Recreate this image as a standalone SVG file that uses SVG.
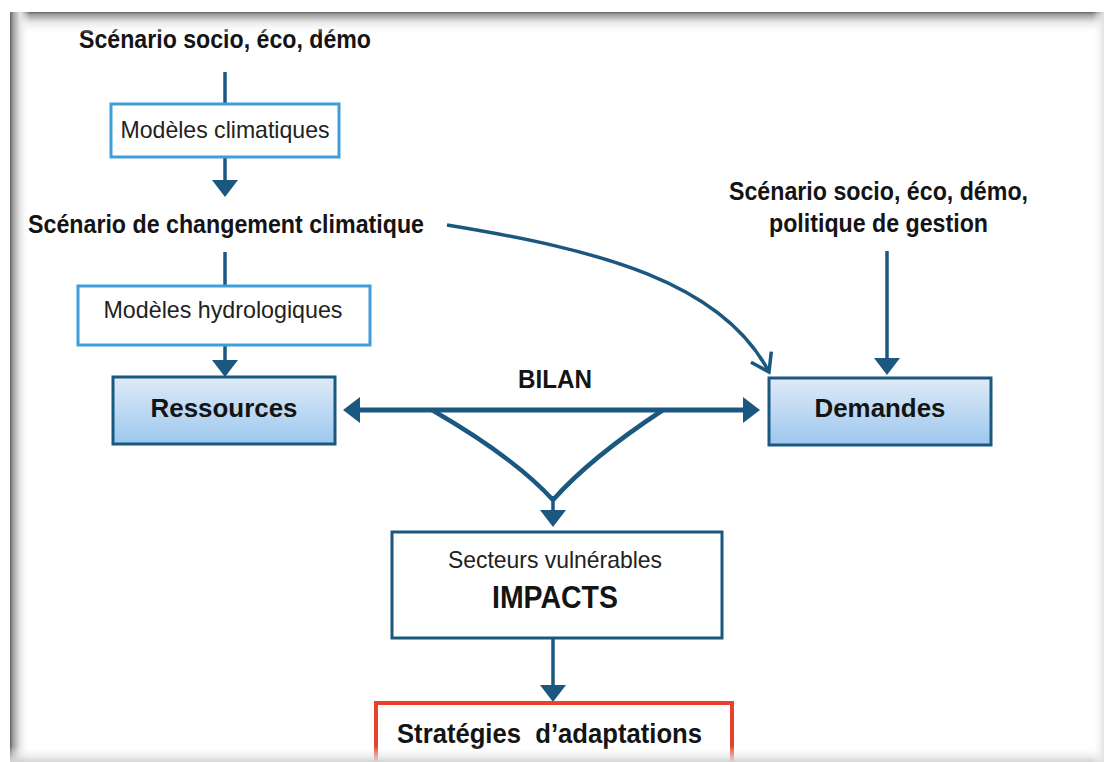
<svg xmlns="http://www.w3.org/2000/svg" width="1104" height="762" viewBox="0 0 1104 762">
<style>
text{font-family:"Liberation Sans",Arial,sans-serif;fill:#141414;text-anchor:middle}
.b{font-weight:bold}
.r{font-weight:normal;fill:#222}
.lb{fill:#fff;stroke:#3f9dd8;stroke-width:3}
.db{fill:url(#gBox);stroke:#1b5880;stroke-width:3}
.wb{fill:#fff;stroke:#1b5880;stroke-width:3}
.rb{fill:#fff;stroke:#e8412c;stroke-width:4}
.c{fill:none;stroke:#1b5880;stroke-width:3.5}
</style>
<defs>
<linearGradient id="gBox" x1="0" y1="0" x2="0" y2="1">
<stop offset="0" stop-color="#dfeaf7"/><stop offset="1" stop-color="#9cc7ee"/>
</linearGradient>
<linearGradient id="gTop" x1="0" y1="0" x2="0" y2="1">
<stop offset="0" stop-color="#666"/><stop offset="0.12" stop-color="#a0a0a0"/><stop offset="0.45" stop-color="#e4e4e4"/><stop offset="1" stop-color="#ffffff" stop-opacity="0"/>
</linearGradient>
<linearGradient id="gLeft" x1="0" y1="0" x2="1" y2="0">
<stop offset="0" stop-color="#606060"/><stop offset="0.15" stop-color="#a0a0a0"/><stop offset="0.5" stop-color="#e6e6e6"/><stop offset="1" stop-color="#ffffff" stop-opacity="0"/>
</linearGradient>
<linearGradient id="gBot" x1="0" y1="0" x2="0" y2="1">
<stop offset="0" stop-color="#ffffff" stop-opacity="0"/><stop offset="1" stop-color="#d4d4d4"/>
</linearGradient>
<linearGradient id="gRight" x1="0" y1="0" x2="1" y2="0">
<stop offset="0" stop-color="#ffffff" stop-opacity="0"/><stop offset="1" stop-color="#e2e2e2"/>
</linearGradient>
<marker id="ah" markerUnits="userSpaceOnUse" markerWidth="20" markerHeight="26" viewBox="0 0 17 26" refX="2" refY="13" orient="auto-start-reverse" overflow="visible">
<path d="M0,0 L17,13 L0,26 z" fill="#1b5880"/>
</marker>
<marker id="open" markerUnits="userSpaceOnUse" markerWidth="24" markerHeight="28" viewBox="-20 -14 24 28" refX="0" refY="0" orient="auto" overflow="visible">
<path d="M-17,-11.5 L0,0 L-17,11.5" fill="none" stroke="#1b5880" stroke-width="3.5"/>
</marker>
</defs>
<rect width="1104" height="762" fill="#fff"/>

<g id="connectors">
<path class="c" d="M225,72 V104"/>
<path class="c" d="M225,157 V182" marker-end="url(#ah)"/>
<path class="c" d="M225,252 V286"/>
<path class="c" d="M225,345 V362" marker-end="url(#ah)"/>
<path class="c" d="M358,410 H745" style="stroke-width:5" marker-start="url(#ah)" marker-end="url(#ah)"/>
<path class="c" d="M432,410 Q515,458 553,500" style="stroke-width:4.5"/>
<path class="c" d="M663,410 Q590,458 553,500" style="stroke-width:4.5"/>
<path class="c" d="M553,496 V512" marker-end="url(#ah)"/>
<path class="c" d="M447,225 C600,250 722,282 769,372" marker-end="url(#open)"/>
<path class="c" d="M887,251 V360" marker-end="url(#ah)"/>
<path class="c" d="M553,638 V687" marker-end="url(#ah)"/>
</g>

<g id="scenario-top">
<text class="b" x="225" y="48" font-size="25" textLength="292" lengthAdjust="spacingAndGlyphs">Scénario socio, éco, démo</text>
</g>
<g id="modeles-climatiques">
<rect class="lb" x="111" y="104" width="228" height="53"/>
<text class="r" x="225" y="138" font-size="24" textLength="209" lengthAdjust="spacingAndGlyphs">Modèles climatiques</text>
</g>
<g id="scenario-climat">
<text class="b" x="226" y="233" font-size="26" textLength="396" lengthAdjust="spacingAndGlyphs">Scénario de changement climatique</text>
</g>
<g id="modeles-hydrologiques">
<rect class="lb" x="78" y="286" width="292" height="59"/>
<text class="r" x="223" y="318" font-size="24" textLength="239" lengthAdjust="spacingAndGlyphs">Modèles hydrologiques</text>
</g>
<g id="ressources">
<rect class="db" x="113" y="377" width="222" height="67"/>
<text class="b" x="224" y="417" font-size="26" textLength="147" lengthAdjust="spacingAndGlyphs">Ressources</text>
</g>
<g id="bilan">
<text class="b" x="555" y="388" font-size="26" textLength="74" lengthAdjust="spacingAndGlyphs">BILAN</text>
</g>
<g id="scenario-demandes">
<text class="b" x="878.5" y="200" font-size="25" textLength="299" lengthAdjust="spacingAndGlyphs">Scénario socio, éco, démo,</text>
<text class="b" x="878.5" y="232" font-size="25" textLength="219" lengthAdjust="spacingAndGlyphs">politique de gestion</text>
</g>
<g id="demandes">
<rect class="db" x="769" y="378" width="222" height="67"/>
<text class="b" x="880" y="417" font-size="26" textLength="131" lengthAdjust="spacingAndGlyphs">Demandes</text>
</g>
<g id="impacts">
<rect class="wb" x="392" y="532" width="330" height="106"/>
<text class="r" x="555" y="568" font-size="24" textLength="214" lengthAdjust="spacingAndGlyphs">Secteurs vulnérables</text>
<text class="b" x="555" y="608" font-size="31" textLength="126" lengthAdjust="spacingAndGlyphs">IMPACTS</text>
</g>
<g id="strategies">
<rect class="rb" x="376" y="703" width="356" height="62"/>
<text class="b" x="549.5" y="743" font-size="28" textLength="305" lengthAdjust="spacingAndGlyphs" style="white-space:pre">Stratégies  d’adaptations</text>
</g>

<g id="frame">
<rect x="10" y="12" width="1094" height="22" fill="url(#gTop)"/>
<rect x="10" y="12" width="20" height="750" fill="url(#gLeft)"/>
<rect x="10" y="746" width="1094" height="16" fill="url(#gBot)"/>
<rect x="1092" y="12" width="12" height="750" fill="url(#gRight)"/>
</g>
</svg>
